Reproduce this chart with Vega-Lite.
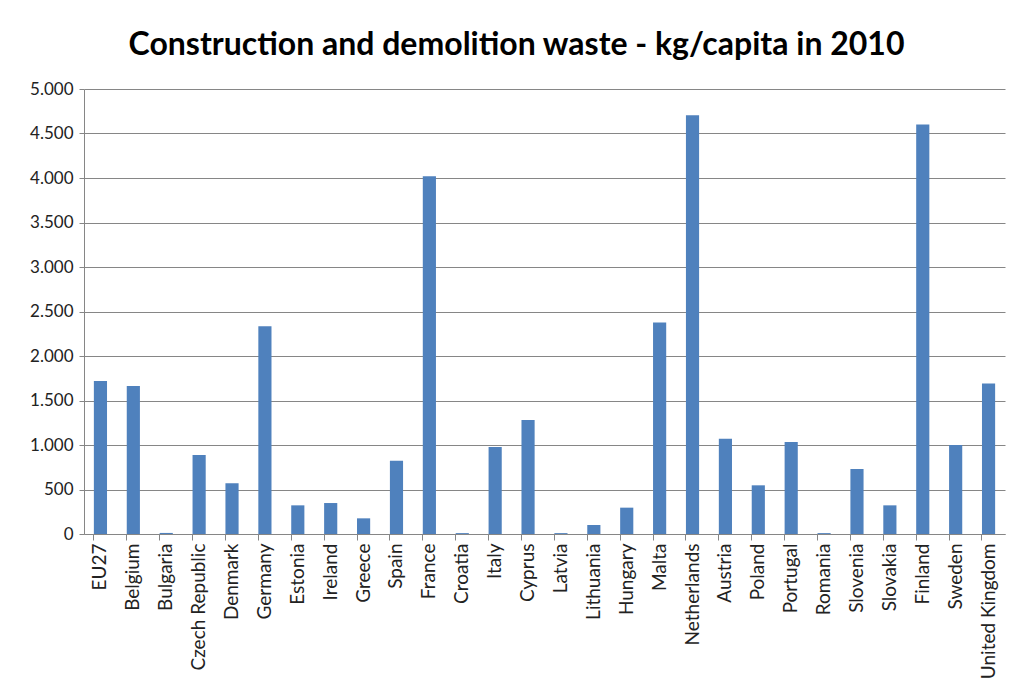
{
  "$schema": "https://vega.github.io/schema/vega-lite/v6.json",
  "autosize": {"type": "none"},
  "padding": {"left": 84, "top": 89, "right": 8, "bottom": 150},
  "width": 921,
  "height": 445,
  "background": "white",
  "config": {
    "locale": {"number": {"decimal": ",", "thousands": ".", "grouping": [3], "currency": ["", " €"]}},
    "view": {"stroke": null},
    "font": "Lato"
  },
  "title": {
    "text": "Construction and demolition waste - kg/capita in 2010",
    "font": "Lato",
    "fontSize": 32,
    "fontWeight": "bold",
    "color": "#000000",
    "anchor": "middle",
    "dx": -28,
    "offset": 18
  },
  "data": {
    "values": [
      {"country": "EU27", "value": 1718},
      {"country": "Belgium", "value": 1663},
      {"country": "Bulgaria", "value": 12},
      {"country": "Czech Republic", "value": 888},
      {"country": "Denmark", "value": 570},
      {"country": "Germany", "value": 2335},
      {"country": "Estonia", "value": 322},
      {"country": "Ireland", "value": 348},
      {"country": "Greece", "value": 176},
      {"country": "Spain", "value": 824},
      {"country": "France", "value": 4020},
      {"country": "Croatia", "value": 10},
      {"country": "Italy", "value": 978},
      {"country": "Cyprus", "value": 1281},
      {"country": "Latvia", "value": 10},
      {"country": "Lithuania", "value": 101},
      {"country": "Hungary", "value": 296},
      {"country": "Malta", "value": 2376},
      {"country": "Netherlands", "value": 4705},
      {"country": "Austria", "value": 1071},
      {"country": "Poland", "value": 547},
      {"country": "Portugal", "value": 1034},
      {"country": "Romania", "value": 10},
      {"country": "Slovenia", "value": 731},
      {"country": "Slovakia", "value": 322},
      {"country": "Finland", "value": 4600},
      {"country": "Sweden", "value": 1000},
      {"country": "United Kingdom", "value": 1690}
    ]
  },
  "layer": [
    {
      "mark": {"type": "bar", "color": "#4F81BD"},
      "encoding": {
        "x": {
          "field": "country",
          "type": "nominal",
          "sort": null,
          "title": null,
          "scale": {"paddingInner": 0.6, "paddingOuter": 0.3},
          "axis": {
            "orient": "bottom",
            "labelAngle": -90,
            "labelAlign": "right",
            "labelBaseline": "middle",
            "labelFontSize": 19,
            "labelColor": "#222222",
            "labelPadding": 9,
            "ticks": false,
            "domain": true,
            "domainColor": "#868686",
            "grid": false
          }
        },
        "y": {
          "field": "value",
          "type": "quantitative",
          "title": null,
          "scale": {"domain": [0, 5000], "nice": false},
          "axis": {
            "values": [0, 500, 1000, 1500, 2000, 2500, 3000, 3500, 4000, 4500, 5000],
            "format": ",.0f",
            "labelFontSize": 17,
            "labelColor": "#222222",
            "labelPadding": 6,
            "tickSize": 5,
            "tickColor": "#868686",
            "domainColor": "#868686",
            "gridColor": "#868686",
            "gridWidth": 1
          }
        }
      }
    },
    {
      "mark": {"type": "tick", "opacity": 0},
      "encoding": {
        "x": {
          "field": "country",
          "type": "nominal",
          "sort": null,
          "title": null,
          "axis": {
            "orient": "bottom",
            "bandPosition": 0,
            "labels": false,
            "domain": false,
            "ticks": true,
            "tickSize": 6,
            "tickColor": "#868686",
            "grid": false
          }
        }
      }
    }
  ],
  "resolve": {"axis": {"x": "independent"}}
}
